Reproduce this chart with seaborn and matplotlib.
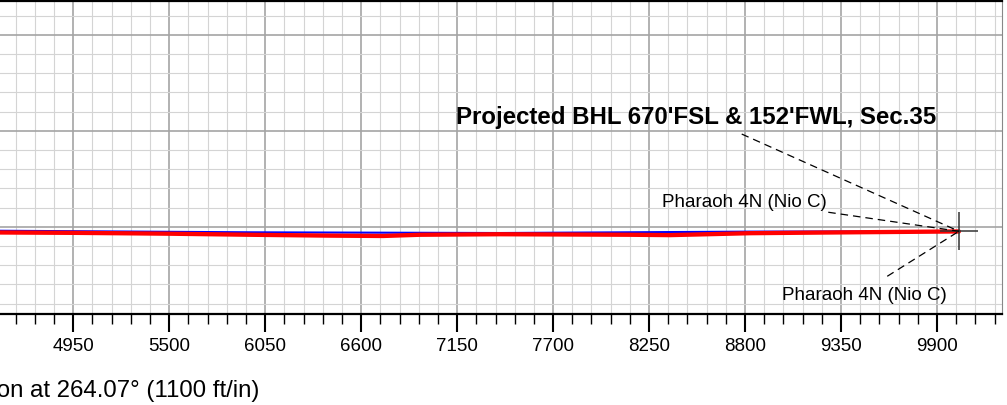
import matplotlib
matplotlib.use("Agg")
import matplotlib.pyplot as plt
from matplotlib.ticker import MultipleLocator, NullFormatter
import pandas as pd
import seaborn as sns

# Well path data (vertical section ft vs TVD ft)
actual_vs = [4400, 4530, 4948, 5292, 5504, 5963, 6421, 6725, 6937, 7396, 8141, 8370, 8542, 8829, 9402, 10026]
actual_tvd = [8832, 8833, 8835, 8838, 8840, 8846, 8851, 8853, 8846, 8843, 8846, 8848, 8844, 8837, 8832, 8827]

plan_vs = [4400, 4530, 5963, 7396, 8829, 10026]
plan_tvd = [8822, 8823, 8832, 8836, 8828, 8826]

target_vs = [10026]
target_tvd = [8826]

x_ticks = [4950, 5500, 6050, 6600, 7150, 7700, 8250, 8800, 9350, 9900]
y_ticks = [7700, 8250, 8800]

# labels: text, text position, leader start
bhl_label = "Projected BHL 670'FSL & 152'FWL, Sec.35"
bhl_pos = (8522, 8171)
bhl_leader = (8781, 8269)
upper_label = "Pharaoh 4N (Nio C)"
upper_pos = (9268, 8657)
upper_leader = (9277, 8717)
lower_label = "Pharaoh 4N (Nio C)"
lower_pos = (9956, 9191)
lower_leader = (9615, 9084)

actual = pd.DataFrame({"vs": actual_vs, "tvd": actual_tvd})
plan = pd.DataFrame({"vs": plan_vs, "tvd": plan_tvd})

sns.set_style("white")
plt.rcParams["font.family"] = ["Liberation Sans", "DejaVu Sans"]
plt.rcParams["text.color"] = "black"

fig = plt.figure(figsize=(10.07, 4.06), dpi=100)
ax = fig.add_axes([-22.7 / 1007, 91 / 406, 1024.4 / 1007, 313.3 / 406])

# grid
ax.set_xticks(x_ticks)
ax.set_yticks(y_ticks)
ax.xaxis.set_minor_locator(MultipleLocator(110))
ax.yaxis.set_minor_locator(MultipleLocator(110))
ax.grid(which="major", color="#a4a4a4", lw=1.2)
ax.grid(which="minor", color="#d4d4d4", lw=0.8)
ax.set_axisbelow(True)

# plan (blue) below actual (red)
sns.lineplot(data=plan, x="vs", y="tvd", sort=False, estimator=None, color="#0000ff", lw=1.5, ax=ax)
sns.lineplot(data=actual, x="vs", y="tvd", sort=False, estimator=None, color="#ff0000", lw=3.1, ax=ax)

# target marker
ax.plot(target_vs, target_tvd, marker="+", markersize=27, mew=1.1, color="#333333", ls="none")

# leader lines
for start in [bhl_leader, upper_leader, lower_leader]:
    ax.plot([start[0], target_vs[0]], [start[1], target_tvd[0]], color="black",
            lw=0.9, ls=(0, (6, 4)))

ax.text(bhl_pos[0], bhl_pos[1], bhl_label, ha="center", va="center",
        fontsize=17.3, fontweight="bold", color="black")
ax.text(upper_pos[0], upper_pos[1], upper_label, ha="right", va="center",
        fontsize=13.5, color="black")
ax.text(lower_pos[0], lower_pos[1], lower_label, ha="right", va="center",
        fontsize=13.5, color="black")

ax.set_xlim(4400, 10271)
ax.set_ylim(9300, 7505)
ax.set_xlabel("")
ax.set_ylabel("")

ax.tick_params(axis="x", which="major", direction="out", length=13, width=1.5,
               labelsize=13.5, pad=3.5, colors="black", bottom=True)
ax.tick_params(axis="x", which="minor", direction="out", length=7, width=1.0,
               colors="black", bottom=True)
ax.tick_params(axis="y", which="both", left=False, labelleft=False)
ax.yaxis.set_major_formatter(NullFormatter())

for side in ["top", "bottom"]:
    ax.spines[side].set_color("black")
    ax.spines[side].set_linewidth(1.6)
ax.spines["right"].set_color("#888888")
ax.spines["right"].set_linewidth(0.8)
ax.spines["left"].set_visible(False)

fig.text(259 / 1007, 9.3 / 406, "Vertical Section at 264.07\u00b0 (1100 ft/in)",
         ha="right", va="baseline", fontsize=17.3, color="black")

fig.savefig("out.png", dpi=100)
